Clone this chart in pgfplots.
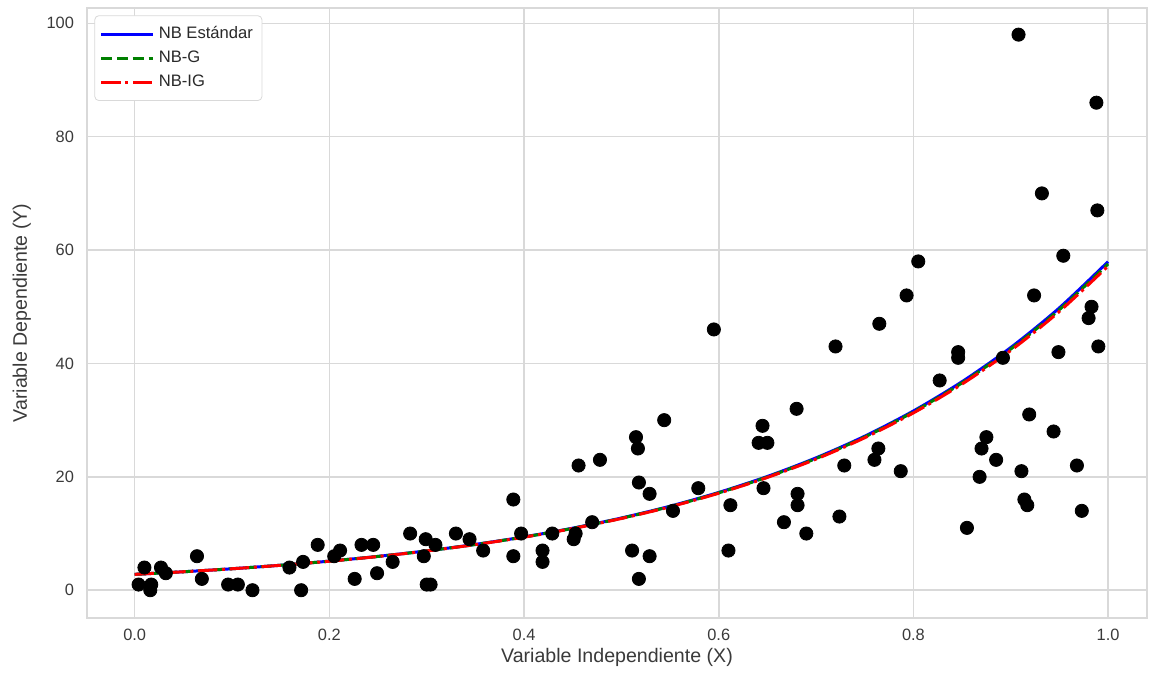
\documentclass[border=0pt]{standalone}
\usepackage{pgfplots}
\pgfplotsset{compat=1.18}
\usepackage{fontspec}
\setmainfont{Liberation Sans}
\definecolor{gridgray}{HTML}{D9D9D9}
\definecolor{labgray}{HTML}{3A3A3A}
\definecolor{nbgreen}{HTML}{008000}

% observed counts
\pgfplotstableread{
x y
0.004 1
0.010 4
0.016 0
0.017 1
0.027 4
0.032 3
0.064 6
0.069 2
0.096 1
0.106 1
0.121 0
0.159 4
0.171 0
0.173 5
0.188 8
0.205 6
0.211 7
0.226 2
0.233 8
0.245 8
0.249 3
0.265 5
0.283 10
0.297 6
0.299 9
0.300 1
0.304 1
0.309 8
0.330 10
0.344 9
0.358 7
0.389 16
0.389 6
0.397 10
0.419 7
0.419 5
0.429 10
0.451 9
0.453 10
0.456 22
0.470 12
0.478 23
0.511 7
0.515 27
0.517 25
0.518 19
0.518 2
0.529 17
0.529 6
0.544 30
0.553 14
0.579 18
0.595 46
0.610 7
0.612 15
0.641 26
0.645 29
0.646 18
0.650 26
0.667 12
0.680 32
0.681 17
0.681 15
0.690 10
0.720 43
0.724 13
0.729 22
0.760 23
0.764 25
0.765 47
0.787 21
0.793 52
0.805 58
0.827 37
0.846 42
0.846 41
0.855 11
0.868 20
0.870 25
0.875 27
0.885 23
0.892 41
0.908 98
0.911 21
0.914 16
0.917 15
0.919 31
0.924 52
0.932 70
0.944 28
0.949 42
0.954 59
0.968 22
0.973 14
0.980 48
0.983 50
0.988 86
0.989 67
0.990 43
}\datos

% fitted mean curves
\pgfplotstableread{
x std g ig
0.00 2.800 2.800 2.800
0.05 3.258 3.257 3.256
0.10 3.791 3.788 3.786
0.15 4.411 4.406 4.402
0.20 5.133 5.126 5.119
0.25 5.972 5.962 5.952
0.30 6.949 6.935 6.921
0.35 8.086 8.067 8.048
0.40 9.409 9.384 9.359
0.45 10.948 10.915 10.882
0.50 12.739 12.696 12.653
0.55 14.823 14.768 14.713
0.60 17.247 17.178 17.109
0.65 20.068 19.981 19.894
0.70 23.351 23.241 23.131
0.75 27.171 27.035 26.899
0.80 31.615 31.447 31.279
0.85 36.787 36.579 36.371
0.90 42.804 42.548 42.292
0.95 49.806 49.492 49.178
1.00 57.953 57.568 57.183
}\curvas

\begin{document}
\begin{tikzpicture}[x=1pt,y=1pt]
\begin{axis}[
  name=ax,
  scale only axis,
  width=530pt, height=305pt,
  xmin=-0.049, xmax=1.04,
  ymin=-4.9, ymax=102.7,
  xtick={0,0.2,...,1.0},
  ytick={0,20,...,100},
  xticklabels={0.0,0.2,0.4,0.6,0.8,1.0},
  grid=major,
  major grid style={gridgray, line width=0.8pt},
  axis line style={gridgray, line width=0.8pt},
  major tick length=0pt,
  tick style={draw=none},
  /pgf/number format/assume math mode=true,
  ticklabel style={font=\fontsize{8.2}{10}\selectfont, text=labgray},
  xticklabel style={yshift=-2pt},
  yticklabel style={xshift=-3pt},
  xlabel={Variable Independiente (X)},
  ylabel={Variable Dependiente (Y)},
  label style={font=\fontsize{9.8}{12}\selectfont, text=labgray},
  xlabel style={yshift=3pt},
  ylabel style={yshift=1pt},
  legend cell align=left,
  legend style={font=\fontsize{8.3}{10}\selectfont, text=labgray!70!black,
    draw=gridgray, fill=white,
    rounded corners=2pt, at={(0.007,0.988)}, anchor=north west,
    inner xsep=2.5pt, inner ysep=3.5pt, row sep=0.6pt},
  legend image code/.code={%
    \draw[#1] (0pt,0pt) -- (20pt,0pt);
    \path (0pt,0pt) -- (26pt,0pt);},
]
\addplot[only marks, mark=*, mark size=3.3pt, black, forget plot] table[x=x,y=y] {\datos};
\addplot[blue, line width=1.5pt, smooth] table[x=x,y=std] {\curvas};
\addlegendentry{NB Estándar}
\addplot[nbgreen, line width=1.5pt, dash pattern=on 5.5pt off 2.4pt, smooth] table[x=x,y=g] {\curvas};
\addlegendentry{NB-G}
\addplot[red, line width=1.5pt, dash pattern=on 9.6pt off 2.4pt on 1.5pt off 2.4pt, smooth] table[x=x,y=ig] {\curvas};
\addlegendentry{NB-IG}
\end{axis}
\pgfresetboundingbox
\useasboundingbox ([shift={(-43.5pt,-32pt)}]ax.south west) rectangle ([shift={(4.5pt,4pt)}]ax.north east);
\end{tikzpicture}
\end{document}
